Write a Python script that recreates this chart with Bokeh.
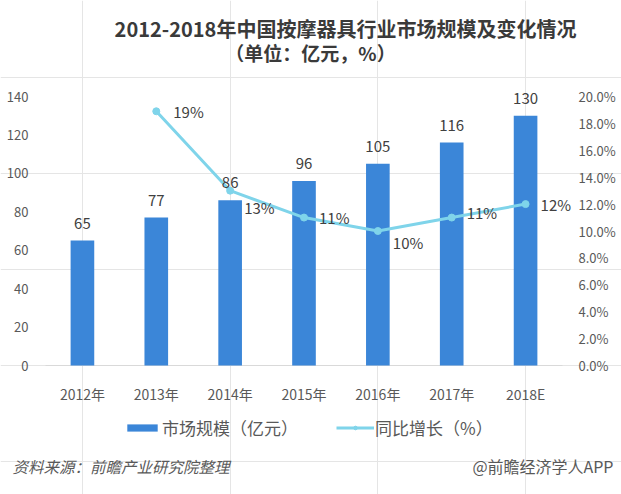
from bokeh.plotting import figure
from bokeh.models import (ColumnDataSource, Range1d, LinearAxis, FixedTicker,
                          Label, LabelSet, Legend, LegendItem)
from bokeh.core.properties import value
from bokeh.embed import file_html
from bokeh.resources import INLINE

# ---------------- data ----------------
years = ["2012年", "2013年", "2014年", "2015年", "2016年", "2017年", "2018E"]
market_size = [65, 77, 86, 96, 105, 116, 130]          # 亿元
growth_years = ["2013年", "2014年", "2015年", "2016年", "2017年", "2018E"]
growth_pct = [18.9, 13.0, 11.0, 10.0, 11.0, 12.0]       # %
left_ticks = [0, 20, 40, 60, 80, 100, 120, 140]
right_ticks = [0, 2, 4, 6, 8, 10, 12, 14, 16, 18, 20]
right_tick_labels = ["0.0%", "2.0%", "4.0%", "6.0%", "8.0%", "10.0%",
                     "12.0%", "14.0%", "16.0%", "18.0%", "20.0%"]
title_text = "2012-2018年中国按摩器具行业市场规模及变化情况"
subtitle_text = "（单位：亿元，%）"
bar_name = "市场规模（亿元）"
line_name = "同比增长（%）"
source_text = "资料来源：前瞻产业研究院整理"
brand_text = "@前瞻经济学人APP"

# ---------------- styles / layout ----------------
FONT = "Noto Sans CJK SC"
BAR_COLOR = "#3b86d8"
LINE_COLOR = "#7fd4ea"
TEXT_COLOR = "#595959"
pct_label_dx = [17, 14, 15, 15, 15, 15]
pct_label_dy = [0, -17, 0, -11, 5, 0]

W, H = 621, 494
# plot area in pixels (from the left / from the top)
PL, PR, PT, PB = 45, 562, 96, 365

n = len(years)
sx = (PR - PL) / n                       # px per category
sy = (PB - PT) / left_ticks[-1]          # px per value unit
x_start = -0.5 - PL / sx
x_end = n - 0.5 + (W - PR) / sx
y_start = -(H - PB) / sy
y_end = PB / sy
ratio = right_ticks[-1] / left_ticks[-1]

pos = list(range(n))
bar_src = ColumnDataSource(dict(x=pos, top=market_size,
                                lbl=[str(v) for v in market_size]))
line_src = ColumnDataSource(dict(x=[years.index(y) for y in growth_years], y=growth_pct,
                                 lbl=[f"{round(v)}%" for v in growth_pct],
                                 dx=pct_label_dx, dy=pct_label_dy))

p = figure(x_range=Range1d(x_start, x_end), y_range=Range1d(y_start, y_end),
           width=W, height=H, output_backend="svg", toolbar_location=None,
           x_axis_location=None, y_axis_location=None, min_border=0)
p.extra_y_ranges = {"pct": Range1d(y_start * ratio, y_end * ratio)}
p.outline_line_color = None
p.background_fill_color = "white"
p.border_fill_color = "white"


def style_axis(ax, size, standoff):
    ax.axis_line_color = None
    ax.major_tick_line_color = None
    ax.minor_tick_line_color = None
    ax.major_tick_out = 0
    ax.major_tick_in = 0
    ax.minor_tick_out = 0
    ax.major_label_text_font = FONT
    ax.major_label_text_font_size = size
    ax.major_label_text_color = TEXT_COLOR
    ax.major_label_standoff = standoff


ax_x = LinearAxis(fixed_location=0, ticker=FixedTicker(ticks=pos),
                  major_label_overrides={i: y for i, y in zip(pos, years)})
style_axis(ax_x, "14px", 18)
p.add_layout(ax_x, "below")

ax_l = LinearAxis(fixed_location=-0.5, ticker=FixedTicker(ticks=left_ticks))
style_axis(ax_l, "13px", 17)
p.add_layout(ax_l, "left")

ax_r = LinearAxis(y_range_name="pct", fixed_location=n - 0.5,
                  ticker=FixedTicker(ticks=right_ticks),
                  major_label_overrides={t: l for t, l in zip(right_ticks, right_tick_labels)})
style_axis(ax_r, "13px", 16)
p.add_layout(ax_r, "right")

# baseline under the categories
p.segment(x0=[-0.5], x1=[n - 0.5], y0=[0], y1=[0], line_color="#d9d9d9", line_width=1)

# bars
bars = p.vbar(x="x", top="top", width=0.32, source=bar_src,
              fill_color=BAR_COLOR, line_color=None)
p.add_layout(LabelSet(x="x", y="top", text="lbl", source=bar_src, y_offset=12,
                      text_align="center", text_baseline="bottom",
                      text_font=value(FONT), text_font_size=value("15px"),
                      text_color="#404040"))

# growth line
ln = p.line(x="x", y="y", source=line_src, y_range_name="pct",
            line_color=LINE_COLOR, line_width=3)
pts = p.scatter(x="x", y="y", source=line_src, y_range_name="pct",
                size=7, fill_color=LINE_COLOR, line_color=LINE_COLOR)
p.add_layout(LabelSet(x="x", y="y", text="lbl", source=line_src, y_range_name="pct",
                      x_offset="dx", y_offset="dy",
                      text_align="left", text_baseline="middle",
                      text_font=value(FONT), text_font_size=value("15px"),
                      text_color="#404040"))

# legend
legend = Legend(items=[LegendItem(label=bar_name, renderers=[bars]),
                       LegendItem(label=line_name, renderers=[ln, pts])],
                orientation="horizontal", location=(123, 54),
                glyph_width=38, glyph_height=9, label_standoff=1, spacing=38,
                padding=0, margin=0, border_line_color=None, background_fill_alpha=0,
                label_text_font=FONT, label_text_font_size="17px",
                label_text_color=TEXT_COLOR)
p.add_layout(legend)

# titles and footer (screen px from the bottom-left corner)
p.add_layout(Label(x=345, y=H - 28, x_units="screen", y_units="screen", text=title_text,
                   text_align="center", text_baseline="middle", text_font=FONT,
                   text_font_size="20px", text_font_style="bold", text_color="#3a3a3a"))
p.add_layout(Label(x=310, y=H - 52, x_units="screen", y_units="screen", text=subtitle_text,
                   text_align="center", text_baseline="middle", text_font=FONT,
                   text_font_size="19px", text_font_style="bold", text_color="#3a3a3a"))
p.add_layout(Label(x=12, y=H - 465, x_units="screen", y_units="screen", text=source_text,
                   text_align="left", text_baseline="middle", text_font=FONT,
                   text_font_size="15.5px", text_font_style="italic", text_color=TEXT_COLOR))
p.add_layout(Label(x=613, y=H - 465, x_units="screen", y_units="screen", text=brand_text,
                   text_align="right", text_baseline="middle", text_font=FONT,
                   text_font_size="16px", text_color=TEXT_COLOR))

open("out.html", "w").write(file_html(p, INLINE))
